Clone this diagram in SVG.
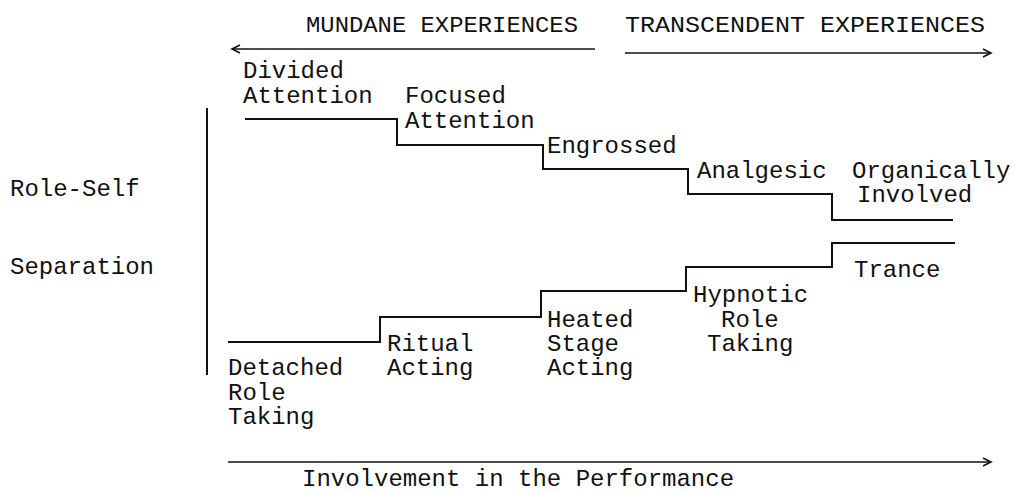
<svg xmlns="http://www.w3.org/2000/svg" width="1014" height="493" viewBox="0 0 1014 493">
<style>
.t{font-family:"Liberation Mono","Courier New",monospace;font-size:24px;fill:#111}
.h{font-family:"Liberation Mono","Courier New",monospace;font-size:22.5px;fill:#111}
.l{stroke:#111;stroke-width:2;fill:none}
.a{stroke:#111;stroke-width:1.6;fill:none}
</style>
<rect width="1014" height="493" fill="#fff"/>
<g id="header-mundane">
<text class="h" x="306" y="32" textLength="272" lengthAdjust="spacingAndGlyphs">MUNDANE EXPERIENCES</text>
</g>
<g id="header-transcendent">
<text class="h" x="625" y="32" textLength="360" lengthAdjust="spacingAndGlyphs">TRANSCENDENT EXPERIENCES</text>
</g>
<g id="axis-label">
<text class="t" x="10" y="196">Role-Self</text>
<text class="t" x="10" y="274">Separation</text>
</g>
<g id="x-label">
<text class="t" x="302" y="486">Involvement in the Performance</text>
</g>
<g id="upper-labels">
<g id="divided"><text class="t" x="243" y="78">Divided</text><text class="t" x="243" y="103">Attention</text></g>
<g id="focused"><text class="t" x="405" y="103">Focused</text><text class="t" x="405" y="128">Attention</text></g>
<g id="engrossed"><text class="t" x="547" y="153">Engrossed</text></g>
<g id="analgesic"><text class="t" x="697" y="178">Analgesic</text></g>
<g id="organic"><text class="t" x="852" y="178">Organically</text><text class="t" x="857" y="202">Involved</text></g>
</g>
<g id="lower-labels">
<g id="detached"><text class="t" x="228" y="375">Detached</text><text class="t" x="228" y="400">Role</text><text class="t" x="228" y="424">Taking</text></g>
<g id="ritual"><text class="t" x="387" y="351">Ritual</text><text class="t" x="387" y="375">Acting</text></g>
<g id="heated"><text class="t" x="547" y="327">Heated</text><text class="t" x="547" y="351">Stage</text><text class="t" x="547" y="375">Acting</text></g>
<g id="hypnotic"><text class="t" x="693" y="302">Hypnotic</text><text class="t" x="721" y="327">Role</text><text class="t" x="707" y="351">Taking</text></g>
<g id="trance"><text class="t" x="854" y="277">Trance</text></g>
</g>
<g id="connectors">
<line class="l" x1="207" y1="108" x2="207" y2="375"/>
<polyline class="l" points="245,119 397,119 397,145 543,145 543,169 688,169 688,194 832,194 832,220 953,220"/>
<polyline class="l" points="228,342 380,342 380,317 541,317 541,291 686,291 686,267 832,267 832,243 955,243"/>
<line class="a" x1="232" y1="49" x2="595" y2="49"/>
<polyline class="a" points="240,45 232,49 240,53"/>
<line class="a" x1="625" y1="53" x2="990" y2="53"/>
<polyline class="a" points="983,49 991,53 983,57"/>
<line class="a" x1="228" y1="462" x2="990" y2="462"/>
<polyline class="a" points="983,458 991,462 983,466"/>
</g>
</svg>
